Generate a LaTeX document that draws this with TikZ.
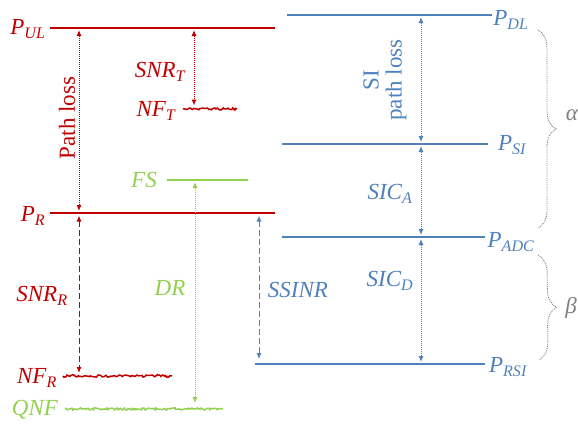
\documentclass[tikz,border=0pt]{standalone}
\usepackage{fontspec}
\setmainfont{Liberation Serif}
\usetikzlibrary{arrows.meta,decorations.pathmorphing,decorations.pathreplacing}
\definecolor{rd}{RGB}{192,0,0}
\definecolor{bl}{RGB}{79,129,189}
\definecolor{gn}{RGB}{146,208,80}
\definecolor{gr}{RGB}{128,128,128}
\begin{document}
\begin{tikzpicture}[x=1pt, y=-1pt, font=\fontsize{23}{25}\selectfont\itshape, >={Latex[length=6pt,width=5pt]},
      lb/.style={inner sep=1pt},
      lvl/.style={line width=1.6pt},
      nz/.style={line width=1.5pt, decorate, decoration={random steps, segment length=1.5pt, amplitude=1.1pt}},
      dt/.style={<->, densely dotted, line width=1pt, shorten <=2pt, shorten >=2pt},
      ds/.style={<->, dash pattern=on 6pt off 3pt, line width=1pt, shorten <=2.5pt, shorten >=2.5pt},
      br/.style={gr, densely dotted, line width=0.9pt, decorate, decoration={brace, amplitude=18pt}}]
    \useasboundingbox (0,0) rectangle (578,423);
    \pgfmathsetseed{7}
    \coordinate (ul) at (50,28);
    \coordinate (r) at (50,213);
    \coordinate (nft) at (183,109);
    \coordinate (fs) at (167,180);
    \coordinate (nfr) at (63,376);
    \coordinate (qnf) at (65,409);
    \coordinate (dl) at (287,15);
    \coordinate (si) at (282,144);
    \coordinate (adc) at (282,237);
    \coordinate (rsi) at (255,364);
    \coordinate (xpl) at (79,0);
    \coordinate (xsnrt) at (194,0);
    \coordinate (xdr) at (195,0);
    \coordinate (xss) at (259,0);
    \coordinate (xsi) at (421,0);
    \coordinate (a1) at (538,30);
    \coordinate (a2) at (538,228);
    \coordinate (b1) at (538,255);
    \coordinate (b2) at (539,360);
    \node[lb, rd] (PUL) at (28,29) {P\textsubscript{UL}};
    \node[lb, rd] (PR) at (33,216) {P\textsubscript{R}};
    \node[lb, rd, rotate=90, font=\fontsize{23}{25}\selectfont\upshape] (PL) at (67,118) {Path loss};
    \node[lb, rd] (SNRT) at (160,72) {SNR\textsubscript{T}};
    \node[lb, rd] (NFT) at (156,111) {NF\textsubscript{T}};
    \node[lb, gn] (FS) at (144,180) {FS};
    \node[lb, gn] (DR) at (170,288) {DR};
    \node[lb, rd] (SNRR) at (42,296) {SNR\textsubscript{R}};
    \node[lb, rd] (NFR) at (37,378) {NF\textsubscript{R}};
    \node[lb, gn] (QNF) at (35,410) {QNF};
    \node[lb, bl] (SSINR) at (298,290) {SSINR};
    \node[lb, bl, rotate=90, align=center, font=\fontsize{23}{23}\selectfont\upshape] (SIPL) at (385,80) {SI\\path loss};
    \node[lb, bl] (SICA) at (390,194) {SIC\textsubscript{A}};
    \node[lb, bl] (SICD) at (390,281) {SIC\textsubscript{D}};
    \node[lb, bl] (PDL) at (511,20) {P\textsubscript{DL}};
    \node[lb, bl] (PSI) at (512,145) {P\textsubscript{SI}};
    \node[lb, bl] (PADC) at (511,242) {P\textsubscript{ADC}};
    \node[lb, bl] (PRSI) at (508,367) {P\textsubscript{RSI}};
    \node[lb, gr] (al) at (572,115) {α};
    \node[lb, gr] (be) at (571,308) {β};
    \draw[rd, lvl] (ul) -- ++(225,0);
    \draw[rd, lvl] (r) -- ++(225,0);
    \draw[rd, nz] (nft) -- ++(54,0);
    \draw[gn, lvl] (fs) -- ++(81,0);
    \draw[rd, nz] (nfr) -- ++(109,0);
    \draw[gn, nz] (qnf) -- ++(158,0);
    \draw[bl, lvl] (dl) -- ++(205,0);
    \draw[bl, lvl] (si) -- ++(206,0);
    \draw[bl, lvl] (adc) -- ++(203,0);
    \draw[bl, lvl] (rsi) -- ++(230,0);
    \draw[rd, dt] (xpl |- ul) -- (xpl |- r);
    \draw[rd, dt, shorten >=3.5pt] (xsnrt |- ul) -- (xsnrt |- nft);
    \draw[gn, dt, shorten >=6pt] (xdr |- fs) -- (xdr |- qnf);
    \draw[rd, ds, shorten >=3pt] (xpl |- r) -- (xpl |- nfr);
    \draw[bl, ds, shorten >=5pt] (xss |- r) -- (xss |- rsi);
    \draw[bl, dt] (xsi |- dl) -- (xsi |- si);
    \draw[bl, dt] (xsi |- si) -- (xsi |- adc);
    \draw[bl, dt] (xsi |- adc) -- (xsi |- rsi);
    \draw[br] (a1) -- (a2);
    \draw[br] (b1) -- (b2);
  \end{tikzpicture}
\end{document}
